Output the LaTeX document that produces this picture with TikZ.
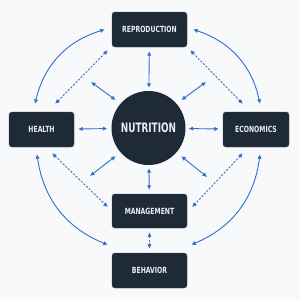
\documentclass[tikz,border=0pt]{standalone}
\usepackage{fontspec}
\setmainfont{DejaVu Sans Condensed}
\newfontfamily\boxfont[FakeStretch=0.8]{DejaVu Sans Condensed Bold}
\newfontfamily\hubfont[FakeStretch=0.76]{DejaVu Sans Condensed Bold}
\usetikzlibrary{arrows.meta,calc}
\definecolor{bg}{HTML}{F8F9FB}
\definecolor{boxc}{HTML}{1F2A37}
\definecolor{arr}{HTML}{2E6FCC}
\definecolor{txt}{HTML}{E9EDF1}
\begin{document}
\begin{tikzpicture}[x=1pt,y=-1pt,
  box/.style={draw=boxc!70!gray,line width=0.4pt,fill=boxc,rounded corners=3pt,inner sep=0pt,
     text=txt,font=\boxfont\fontsize{8.5}{9}\selectfont},
  hub/.style={circle,fill=boxc,inner sep=0pt,minimum size=74pt,text=txt,
     font=\hubfont\fontsize{13}{14}\selectfont},
  link/.style={arr,line width=0.9pt,{Latex[length=4.5pt,width=4.5pt]}-{Latex[length=4.5pt,width=4.5pt]}},
  dlink/.style={link,dash pattern=on 2pt off 1.6pt}]
\fill[bg] (0,0) rectangle (300,300);
\useasboundingbox (0,0) rectangle (300,300);
\node[box,minimum width=75pt,minimum height=35pt] (rep) at (149.5,29.5) {REPRODUCTION};
\node[box,minimum width=65pt,minimum height=35pt] (hea) at (41.5,129.5) {HEALTH};
\node[box,minimum width=66pt,minimum height=35pt] (eco) at (256,129.5) {ECONOMICS};
\node[box,minimum width=75pt,minimum height=34pt] (man) at (149.5,211) {MANAGEMENT};
\node[box,minimum width=75pt,minimum height=35pt] (beh) at (149.5,270.5) {BEHAVIOR};
\node[hub] (nut) at (148.5,128) {NUTRITION};
\coordinate (ul) at (91,82);
\coordinate (ur) at (206,82);
\coordinate (ll) at (90,176);
\coordinate (lr) at (207,177);
% straight solid
\draw[link,shorten <=4pt,shorten >=3pt] (rep) -- (nut);
\draw[link,shorten <=4pt,shorten >=4pt] (hea) -- (nut);
\draw[link,shorten <=4pt,shorten >=3pt] (eco) -- (nut);
\draw[link,shorten <=4pt,shorten >=3pt] (man) -- (nut);
\draw[link,shorten <=6pt] (nut.139) -- (ul);
\draw[link,shorten <=6pt] (nut.41) -- (ur);
\draw[link,shorten <=6pt] (nut.221) -- (ll);
\draw[link,shorten <=6pt] (nut.319) -- (lr);
% dashed
\draw[dlink] ([xshift=-19pt,yshift=8pt]hea.north east) -- ([xshift=-4pt,yshift=-3pt]rep.south west);
\draw[dlink] ([xshift=3pt,yshift=-3pt]rep.south east) -- ([xshift=20pt,yshift=8pt]eco.north west);
\draw[dlink] ([xshift=-22pt,yshift=-6pt]hea.south east) -- ([xshift=-4pt,yshift=4pt]man.west);
\draw[dlink] ([xshift=20pt,yshift=-6pt]eco.south west) -- ([xshift=5pt,yshift=4pt]man.east);
\draw[dlink,shorten <=4pt,shorten >=4pt] (man) -- (beh);
% curved
\draw[link] ([xshift=-6.5pt,yshift=8pt]hea.north) to[bend left=30] ([xshift=-7pt]rep.west);
\draw[link] ([xshift=6pt]rep.east) to[bend left=30] ([xshift=4pt,yshift=8pt]eco.north);
\draw[link] ([xshift=-4.5pt,yshift=-7pt]hea.south) to[bend right=30] ([xshift=-4pt,yshift=8pt]beh.north west);
\draw[link] ([xshift=4pt,yshift=-7pt]eco.south) to[bend left=30] ([xshift=4pt,yshift=8pt]beh.north east);
\end{tikzpicture}
\end{document}
